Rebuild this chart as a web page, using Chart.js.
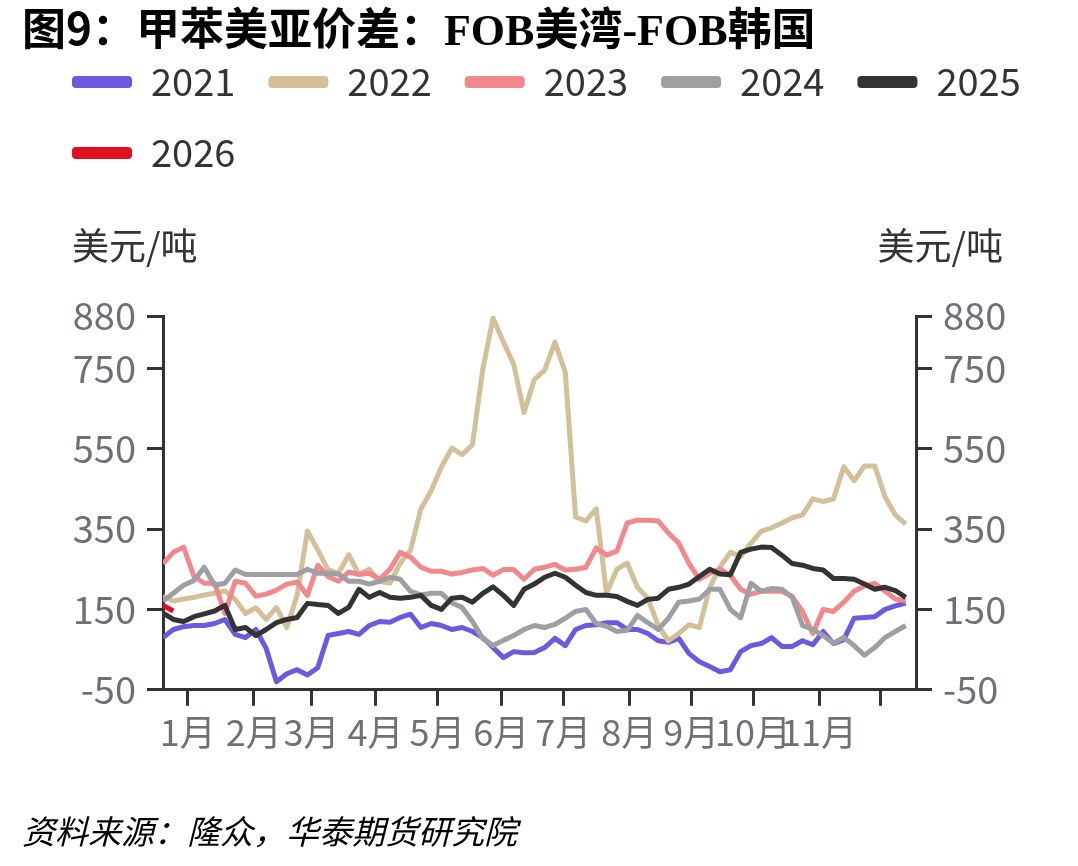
<!DOCTYPE html>
<html>
<head>
<meta charset="utf-8">
<script src="https://cdn.jsdelivr.net/npm/chart.js@4.4.1/dist/chart.umd.min.js"></script>
<style>
  html, body { margin: 0; padding: 0; background: #fff; }
  #wrap { position: relative; width: 1078px; height: 866px; }
  canvas { position: absolute; left: 0; top: 0; }
  #title { position: absolute; left: 22px; top: 4px; font: bold 44px "Noto Sans CJK SC"; color: #000; white-space: nowrap; line-height: 1; }
  #title .lat { font-family: "Liberation Serif"; }
  #src { position: absolute; left: 22px; top: 814px; font: italic 33px "Noto Sans CJK SC"; color: #000; white-space: nowrap; line-height: 1; }
</style>
</head>
<body>
<div id="wrap">
  <canvas id="chart" width="1078" height="866"></canvas>
  <div id="title">图9：甲苯美亚价差：<span class="lat">FOB</span>美湾<span class="lat">-FOB</span>韩国</div>
  <div id="src">资料来源：隆众，华泰期货研究院</div>
</div>
<script>
// day of year for each sample (every 5 days)
const days = [0, 5, 10, 15, 20, 25, 30, 35, 40, 45, 50, 55, 60, 65, 70, 75, 80, 85, 90, 95,
  100, 105, 110, 115, 120, 125, 130, 135, 140, 145, 150, 155, 160, 165, 170, 175, 180, 185, 190, 195,
  200, 205, 210, 215, 220, 225, 230, 235, 240, 245, 250, 255, 260, 265, 270, 275, 280, 285, 290, 295,
  300, 305, 310, 315, 320, 325, 330, 335, 340, 345, 350, 355, 360];

const s2021 = [80, 100, 107, 110, 110, 115, 125, 88, 80, 100, 53, -30, -10, 0, -13, 5, 85, 90, 95, 88,
  110, 120, 118, 130, 138, 105, 115, 110, 100, 105, 95, 80, 55, 30, 45, 42, 43, 55, 78, 60,
  100, 110, 112, 117, 117, 100, 100, 90, 72, 68, 78, 40, 20, 8, -5, 0, 45, 60, 65, 80,
  58, 58, 72, 62, 95, 65, 75, 128, 130, 132, 150, 159, 166];
const s2022 = [183, 171, 176, 180, 186, 190, 196, 175, 140, 154, 125, 155, 105, 185, 345, 298, 249, 240, 286, 237,
  250, 220, 215, 265, 298, 400, 445, 505, 551, 535, 560, 747, 875, 815, 760, 640, 722, 745, 815, 740,
  380, 370, 400, 190, 250, 265, 205, 178, 110, 72, 90, 112, 105, 205, 255, 292, 282, 315, 345, 353,
  365, 378, 385, 425, 418, 425, 505, 470, 507, 507, 430, 385, 362];
const s2023 = [264, 292, 305, 232, 215, 215, 140, 220, 215, 183, 188, 198, 213, 218, 185, 260, 232, 220, 243, 237,
  240, 225, 250, 292, 280, 255, 245, 245, 238, 242, 248, 252, 235, 249, 249, 225, 250, 255, 262, 248,
  250, 255, 303, 285, 295, 365, 372, 372, 370, 340, 315, 264, 225, 240, 250, 235, 200, 188, 195, 195,
  195, 182, 145, 90, 150, 145, 168, 195, 208, 215, 195, 176, 171];
const s2024 = [171, 190, 210, 222, 255, 210, 215, 248, 237, 237, 237, 237, 237, 237, 250, 240, 240, 238, 220, 220,
  213, 220, 230, 225, 195, 186, 190, 190, 166, 155, 120, 78, 60, 73, 85, 100, 110, 105, 113, 128,
  145, 150, 115, 108, 95, 98, 135, 117, 100, 128, 168, 171, 176, 200, 200, 150, 129, 215, 195, 202,
  200, 180, 110, 100, 85, 66, 80, 60, 36, 55, 80, 95, 110];
const s2025 = [141, 125, 120, 132, 139, 146, 160, 100, 105, 85, 100, 117, 125, 130, 165, 162, 160, 140, 155, 200,
  180, 192, 180, 178, 180, 185, 160, 150, 178, 180, 168, 190, 206, 185, 160, 200, 213, 230, 240, 230,
  210, 192, 185, 185, 182, 170, 160, 175, 178, 200, 205, 213, 232, 250, 238, 236, 292, 300, 305, 304,
  285, 264, 260, 252, 248, 227, 227, 225, 213, 200, 205, 197, 180];
const s2026 = [160, 146];

const seriesNames = ['2021', '2022', '2023', '2024', '2025', '2026'];
const seriesData = [s2021, s2022, s2023, s2024, s2025, s2026];
const colors = ['#6a5ae0', '#d3bf98', '#f2878c', '#9d9fa2', '#333333', '#e0101e'];

const yTicks = [-50, 150, 350, 550, 750, 880];
const monthDays = [12, 44, 72, 103, 133, 164, 194, 226, 256, 286, 318, 348];
const monthLabels = ['1月', '2月', '3月', '4月', '5月', '6月', '7月', '8月', '9月', '10月', '11月', ''];

const FONT = '"Noto Sans CJK SC", "Noto Sans", sans-serif';

// leave room between legend and plot for the unit labels
const legendSpace = {
  id: 'legendSpace',
  beforeInit(chart) {
    const fit = chart.legend.fit;
    chart.legend.fit = function () {
      fit.call(this);
      this.height = 286;
    };
  }
};

// "美元/吨" above both y axes
const unitLabels = {
  id: 'unitLabels',
  afterDraw(chart) {
    const {ctx, chartArea} = chart;
    ctx.save();
    ctx.font = '37px ' + FONT;
    ctx.fillStyle = '#333';
    ctx.textBaseline = 'middle';
    ctx.textAlign = 'left';
    ctx.fillText('美元/吨', chartArea.left - 91, chartArea.top - 70);
    ctx.textAlign = 'right';
    ctx.fillText('美元/吨', chartArea.right + 87, chartArea.top - 70);
    ctx.restore();
  }
};

const datasets = seriesNames.map((name, i) => ({
  label: name,
  data: seriesData[i].map((v, j) => ({x: days[j], y: v})),
  borderColor: colors[i],
  backgroundColor: colors[i],
  borderWidth: 5,
  pointRadius: 0,
  tension: 0,
  borderJoinStyle: 'round',
  order: seriesNames.length - 1 - i,
  yAxisID: 'y'
}));

const yAxis = (position, width) => ({
  type: 'linear',
  position: position,
  min: -50,
  max: 880,
  afterBuildTicks: s => { s.ticks = yTicks.map(v => ({value: v})); },
  afterFit: s => { s.width = width; },
  ticks: {color: '#6e7079', font: {family: FONT, size: 38}, padding: 11},
  grid: {drawOnChartArea: false, color: '#333', lineWidth: 3, tickLength: 16},
  border: {color: '#333', width: 3}
});

new Chart(document.getElementById('chart'), {
  type: 'line',
  data: {datasets: datasets},
  options: {
    responsive: false,
    animation: false,
    layout: {padding: {left: 39, right: 0, top: 30, bottom: 107}},
    plugins: {
      tooltip: {enabled: false},
      legend: {
        position: 'top',
        align: 'start',
        labels: {
          boxWidth: 60,
          boxHeight: 12,
          padding: 33,
          color: '#333',
          font: {family: FONT, size: 38},
          sort: (a, b) => a.datasetIndex - b.datasetIndex,
          generateLabels: chart => {
            const items = Chart.defaults.plugins.legend.labels.generateLabels(chart);
            items.forEach(it => { it.lineWidth = 0; it.borderRadius = 4; });
            return items;
          }
        }
      }
    },
    scales: {
      x: {
        type: 'linear',
        min: 0,
        max: 365,
        afterBuildTicks: s => { s.ticks = monthDays.map(v => ({value: v})); },
        ticks: {
          color: '#6e7079',
          font: {family: FONT, size: 36},
          padding: 5,
          autoSkip: false,
          maxRotation: 0,
          callback: (value, index) => monthLabels[index]
        },
        grid: {drawOnChartArea: false, color: '#333', lineWidth: 3, tickLength: 16},
        border: {color: '#333', width: 3}
      },
      y: yAxis('left', 124),
      y2: yAxis('right', 162)
    }
  },
  plugins: [legendSpace, unitLabels]
});
</script>
</body>
</html>
